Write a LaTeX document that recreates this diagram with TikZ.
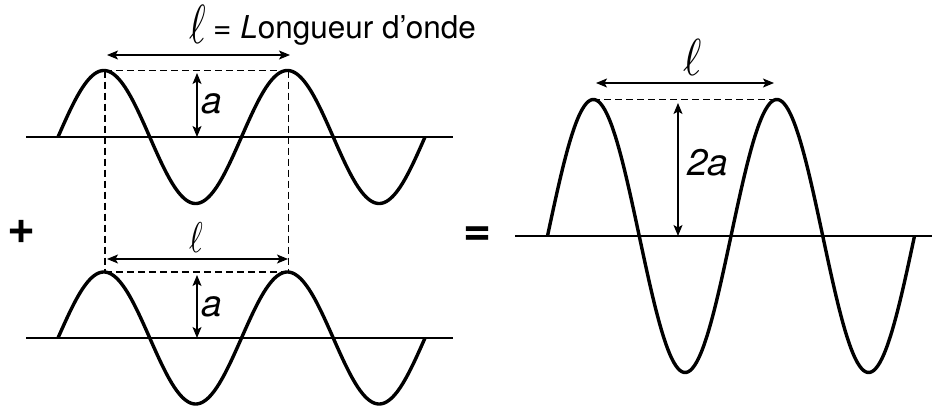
\documentclass[tikz,border=0pt]{standalone}
\usepackage{fontspec}
\setmainfont{TeX Gyre Heros}
\usetikzlibrary{arrows.meta}
\begin{document}
\begin{tikzpicture}[x=1pt,y=-1pt,
  wave/.style={line width=3.4pt, line join=round},
  axisline/.style={line width=1.5pt},
  guide/.style={line width=1.3pt, dash pattern=on 7pt off 4pt},
  dim/.style={line width=1.3pt, {Stealth[length=11pt,width=9pt,inset=2.5pt]}-{Stealth[length=11pt,width=9pt,inset=2.5pt]}},
  lbl/.style={inner sep=0pt, anchor=base west, font=\fontsize{37}{37}\selectfont\itshape},
  elllbl/.style={inner sep=0pt, anchor=center},
  opsign/.style={inner sep=0pt, font=\fontsize{48}{48}\selectfont\bfseries}]
\useasboundingbox (0,0) rectangle (932,407);
\fill[white] (0,0) rectangle (932,407);

% ---- top wave ----
\coordinate (tAL) at (26,137);
\coordinate (tAR) at (453,137);
\draw[axisline] (tAL) -- (tAR);
\draw[wave] plot[domain=0:720, samples=181, smooth] ({58+\x/360*183.5},{137-66.5*sin(\x)});

% ---- bottom wave ----
\coordinate (bAL) at (26,338);
\coordinate (bAR) at (453,338);
\draw[axisline] (bAL) -- (bAR);
\draw[wave] plot[domain=0:720, samples=181, smooth] ({58+\x/360*183.5},{338-66*sin(\x)});

% ---- dashed guides ----
\coordinate (tP1) at (104.9,70.5);
\coordinate (tP2) at (288.4,70.5);
\coordinate (bP1) at (104.9,272);
\coordinate (bP2) at (288.4,272);
\draw[guide] (tP1) -- (tP2);
\draw[guide] (bP1) -- (bP2);
\draw[guide] (tP1) -- (bP1);
\draw[guide] (tP2) -- (bP2);

% ---- dimension arrows (left) ----
\coordinate (tWL) at (107,55);
\coordinate (tWR) at (290,55);
\draw[dim] (tWL) -- (tWR);
\coordinate (bWL) at (107,259);
\coordinate (bWR) at (288,259);
\draw[dim] (bWL) -- (bWR);
\coordinate (tAt) at (197,73);
\coordinate (tAb) at (197,137);
\draw[dim] (tAt) -- (tAb);
\coordinate (bAt) at (197,275);
\coordinate (bAb) at (197,338);
\draw[dim] (bAt) -- (bAb);

% ---- labels (left) ----
\node[elllbl] (tL) at (197.5,24) {\scalebox{4.0}[5.5]{$\ell$}};
\node[inner sep=0pt, anchor=base west, font=\fontsize{31.5}{31.5}\selectfont] (title) at (213,38)
  {= \textit{L}ongueur d’onde};
\node[lbl] (tA) at (201,113) {a};
\node[lbl] (bA) at (201,316) {a};
\node[elllbl] (bL) at (196,238) {\scalebox{3.3}[4.3]{$\ell$}};

% ---- operators ----
\node[opsign] (plus) at (22,232) {+};
\node[opsign] (eq) at (478,236) {=};

% ---- right wave ----
\coordinate (rAL) at (515,236);
\coordinate (rAR) at (932,236);
\draw[axisline] (rAL) -- (rAR);
\draw[wave] plot[domain=0:720, samples=181, smooth] ({547.5+\x/360*183.5},{236-136.5*sin(\x)});
\coordinate (rP1) at (593.4,99.5);
\coordinate (rP2) at (776.9,99.5);
\draw[guide] (rP1) -- (rP2);
\coordinate (rWL) at (596,83);
\coordinate (rWR) at (774,83);
\draw[dim] (rWL) -- (rWR);
\coordinate (rAt) at (678,103);
\coordinate (rAb) at (678,236);
\draw[dim] (rAt) -- (rAb);
\node[lbl] (r2a) at (687,175) {2a};
\node[elllbl] (rL) at (693,57) {\scalebox{4.4}[5.2]{$\ell$}};
\end{tikzpicture}
\end{document}
